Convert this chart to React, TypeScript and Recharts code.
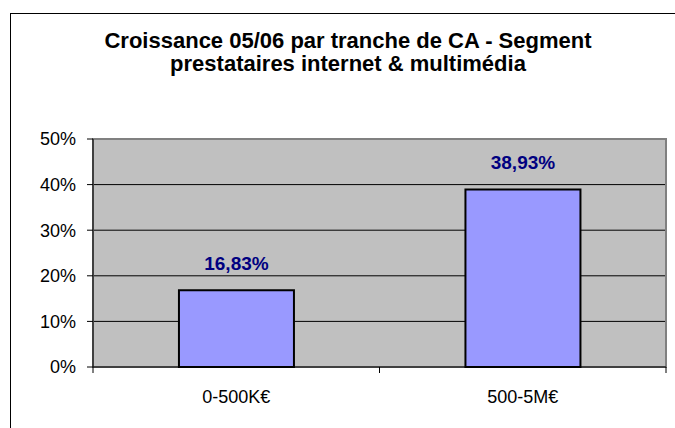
import { BarChart, Bar, XAxis, YAxis, CartesianGrid, LabelList, ReferenceArea } from "recharts";

const categories = ["0-500K€", "500-5M€"];
const growth = [16.83, 38.93];
const yTicks = [0, 10, 20, 30, 40, 50];
const titleLines = ["Croissance 05/06 par tranche de CA - Segment", "prestataires internet & multimédia"];

const data = categories.map((name, i) => ({ name, value: growth[i] }));

const font = "'Liberation Sans', Arial, sans-serif";
const X_TICK = 6;
const X_GAP = 17;

// category label plus Excel-style tick marks on the category boundaries
function CategoryTick(props: any) {
  const { x, y, payload, width, visibleTicksCount, index } = props;
  const half = payload?.offset || width / visibleTicksCount / 2;
  const axisY = y - X_TICK - X_GAP;
  return (
    <g>
      <line x1={x - half} x2={x - half} y1={axisY} y2={axisY + X_TICK} stroke="#000" />
      {index === visibleTicksCount - 1 && (
        <line x1={x + half} x2={x + half} y1={axisY} y2={axisY + X_TICK} stroke="#000" />
      )}
      <text x={x} y={y} dy="0.71em" textAnchor="middle" fill="#000" fontSize={18} fontFamily={font}>
        {payload.value}
      </text>
    </g>
  );
}

export default function App() {
  return (
    <div style={{ position: "absolute", left: 0, top: 0, width: 675, height: 428, overflow: "hidden", background: "#fff", fontFamily: font }}>
      <div style={{ position: "absolute", left: 10, top: 13, width: 676, height: 460, border: "1px solid #000", boxSizing: "border-box" }} />
      <div style={{ position: "absolute", left: 10, top: 29, width: 676, textAlign: "center", fontWeight: "bold", fontSize: 22, lineHeight: "23px", color: "#000" }}>
        {titleLines.map((l) => (
          <div key={l}>{l}</div>
        ))}
      </div>
      <div style={{ position: "absolute", left: 0, top: 0 }}>
        <BarChart width={675} height={428} data={data} margin={{ top: 139, right: 9, bottom: 21, left: 0 }} barCategoryGap="30%">
          <CartesianGrid vertical={false} stroke="#000" fill="#C0C0C0" strokeOpacity={1} />
          <ReferenceArea y1={0} y2={50} fill="none" stroke="#808080" strokeWidth={2} ifOverflow="visible" />
          <XAxis
            dataKey="name"
            axisLine={{ stroke: "#000", strokeWidth: 1 }}
            tickLine={false}
            tickSize={X_TICK}
            tickMargin={X_GAP}
            tick={<CategoryTick />}
            height={40}
          />
          <YAxis
            domain={[0, 50]}
            ticks={yTicks}
            tickFormatter={(v: number) => `${v}%`}
            axisLine={{ stroke: "#000" }}
            tickLine={{ stroke: "#000" }}
            tickSize={6}
            tickMargin={11}
            width={93}
            tick={{ fill: "#000", fontSize: 18, fontFamily: font }}
          />
          <Bar dataKey="value" fill="#9999FF" stroke="#000" strokeWidth={2} isAnimationActive={false}>
            <LabelList
              dataKey="value"
              position="top"
              offset={20}
              formatter={(v: number) => `${v.toFixed(2).replace(".", ",")}%`}
              style={{ fill: "#000080", fontWeight: "bold", fontSize: 19, fontFamily: font }}
            />
          </Bar>
        </BarChart>
      </div>
    </div>
  );
}
